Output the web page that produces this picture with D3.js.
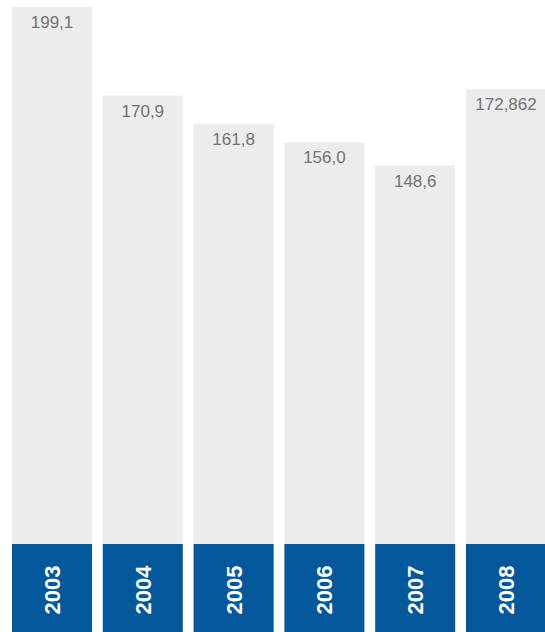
<!DOCTYPE html>
<html>
<head>
<meta charset="utf-8">
<script src="https://cdn.jsdelivr.net/npm/d3@7"></script>
<style>
  html, body { margin: 0; padding: 0; background: #ffffff; }
  svg { display: block; }
</style>
</head>
<body>
<svg id="chart" width="545" height="632"></svg>
<script>
// Yearly totals
const years = ["2003", "2004", "2005", "2006", "2007", "2008"];
const values = [199.1, 170.9, 161.8, 156.0, 148.6, 172.862];
const valueLabels = ["199,1", "170,9", "161,8", "156,0", "148,6", "172,862"];

const width = 545, height = 632;
const yearBoxTop = 544;

const svg = d3.select("#chart");

const x = d3.scaleBand()
  .domain(years)
  .range([12, 546])
  .paddingInner(0.1189)
  .paddingOuter(0);

const y = d3.scaleLinear()
  .domain([0, 201.33])
  .range([height, 0]);

const rows = years.map((yr, i) => ({ year: yr, value: values[i], label: valueLabels[i] }));

const g = svg.append("g");

// light grey value columns
g.selectAll("rect.bar")
  .data(rows)
  .join("rect")
  .attr("class", "bar")
  .attr("x", d => x(d.year))
  .attr("y", d => y(d.value))
  .attr("width", x.bandwidth())
  .attr("height", d => height - y(d.value))
  .attr("fill", "#ebeceb");

// blue year boxes along the bottom
g.selectAll("rect.year")
  .data(rows)
  .join("rect")
  .attr("class", "year")
  .attr("x", d => x(d.year))
  .attr("y", yearBoxTop)
  .attr("width", x.bandwidth())
  .attr("height", height - yearBoxTop)
  .attr("fill", "#03589b");

// value labels inside the top of each column
g.selectAll("text.value")
  .data(rows)
  .join("text")
  .attr("class", "value")
  .attr("x", d => x(d.year) + x.bandwidth() / 2)
  .attr("y", d => y(d.value) + 21)
  .attr("text-anchor", "middle")
  .attr("font-family", "'Liberation Sans', Arial, Helvetica, sans-serif")
  .attr("font-size", 17)
  .attr("fill", "#737373")
  .text(d => d.label);

// rotated year labels
g.selectAll("text.yearLabel")
  .data(rows)
  .join("text")
  .attr("class", "yearLabel")
  .attr("transform", d => `translate(${x(d.year) + x.bandwidth() / 2 + 8},${(yearBoxTop + height) / 2 + 2}) rotate(-90)`)
  .attr("text-anchor", "middle")
  .attr("font-family", "'Liberation Sans', Arial, Helvetica, sans-serif")
  .attr("font-weight", "bold")
  .attr("font-size", 22)
  .attr("fill", "#ffffff")
  .text(d => d.year);
</script>
</body>
</html>
